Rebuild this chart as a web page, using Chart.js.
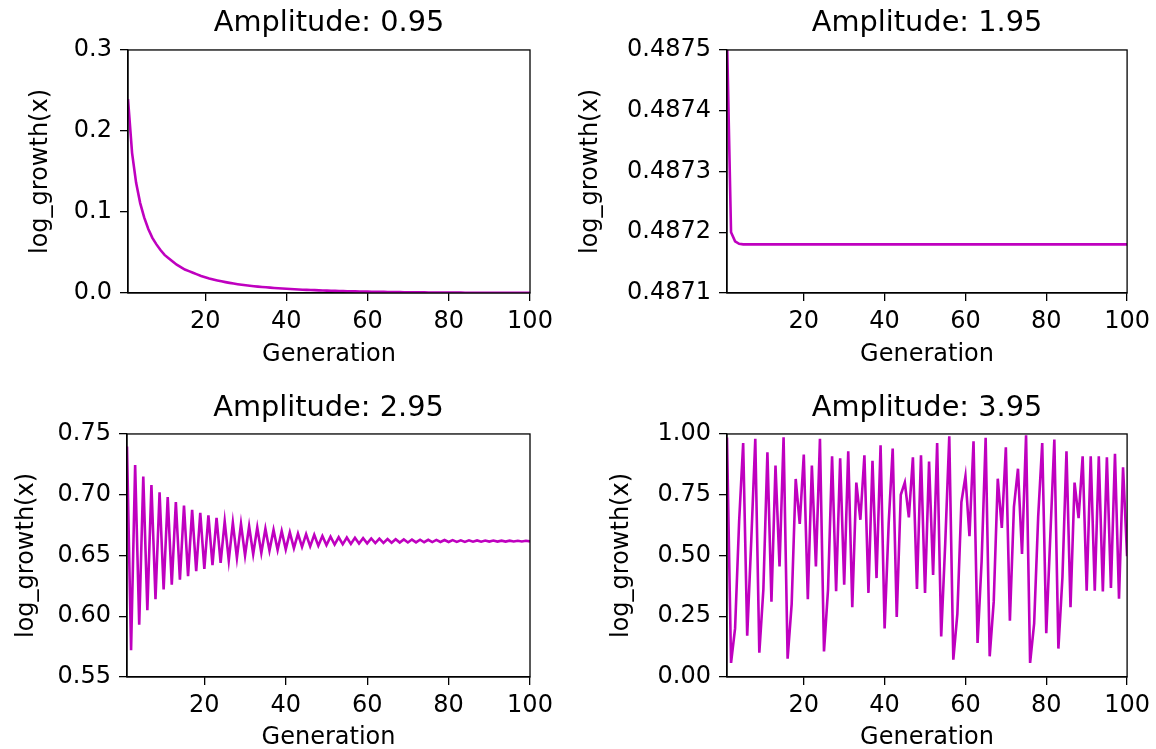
<!DOCTYPE html>
<html>
<head>
<meta charset="utf-8">
<script src="https://cdn.jsdelivr.net/npm/chart.js@4.4.1/dist/chart.umd.min.js"></script>
<style>
  html, body { margin: 0; padding: 0; background: #fff; overflow: hidden; }
  #wrap { position: relative; width: 1156px; height: 749px; overflow: hidden; }
  canvas { position: absolute; }
</style>
</head>
<body>
<div id="wrap">
  <canvas id="c1" width="578" height="374" style="left:0px;top:0px"></canvas>
  <canvas id="c2" width="578" height="374" style="left:578px;top:0px"></canvas>
  <canvas id="c3" width="578" height="380" style="left:0px;top:374px"></canvas>
  <canvas id="c4" width="578" height="380" style="left:578px;top:374px"></canvas>
</div>
<script>
// generation index (x axis)
const generations = [
  1, 2, 3, 4, 5, 6, 7, 8, 9, 10, 11, 12, 13, 14, 15, 16, 17, 18, 19, 20,
  21, 22, 23, 24, 25, 26, 27, 28, 29, 30, 31, 32, 33, 34, 35, 36, 37, 38, 39, 40,
  41, 42, 43, 44, 45, 46, 47, 48, 49, 50, 51, 52, 53, 54, 55, 56, 57, 58, 59, 60,
  61, 62, 63, 64, 65, 66, 67, 68, 69, 70, 71, 72, 73, 74, 75, 76, 77, 78, 79, 80,
  81, 82, 83, 84, 85, 86, 87, 88, 89, 90, 91, 92, 93, 94, 95, 96, 97, 98, 99, 100
];

// values
const amp095 = [
  0.2395, 0.173, 0.136, 0.111, 0.093, 0.079, 0.068, 0.060, 0.053, 0.047,
  0.043, 0.039, 0.035, 0.032, 0.029, 0.027, 0.025, 0.023, 0.021, 0.0195,
  0.0180, 0.0167, 0.0155, 0.0144, 0.0134, 0.0125, 0.0117, 0.0109, 0.0102, 0.0096,
  0.0090, 0.0084, 0.0079, 0.0074, 0.0070, 0.0066, 0.0062, 0.0058, 0.0055, 0.0052,
  0.0049, 0.0046, 0.0043, 0.0041, 0.0039, 0.0037, 0.0035, 0.0033, 0.0031, 0.0029,
  0.0028, 0.0026, 0.0025, 0.0024, 0.0022, 0.0021, 0.0020, 0.0019, 0.0018, 0.0017,
  0.0016, 0.0015, 0.0014, 0.0014, 0.0013, 0.0012, 0.0012, 0.0011, 0.0010, 0.0010,
  0.0009, 0.0009, 0.0008, 0.0008, 0.0007, 0.0007, 0.0007, 0.0006, 0.0006, 0.0006,
  0.0005, 0.0005, 0.0005, 0.0004, 0.0004, 0.0004, 0.0004, 0.0003, 0.0003, 0.0003,
  0.0003, 0.0003, 0.0003, 0.0002, 0.0002, 0.0002, 0.0002, 0.0002, 0.0002, 0.0002
];

const amp195 = [
  0.48752, 0.48720, 0.487185, 0.487181, 0.48718, 0.48718, 0.48718, 0.48718, 0.48718, 0.48718,
  0.48718, 0.48718, 0.48718, 0.48718, 0.48718, 0.48718, 0.48718, 0.48718, 0.48718, 0.48718,
  0.48718, 0.48718, 0.48718, 0.48718, 0.48718, 0.48718, 0.48718, 0.48718, 0.48718, 0.48718,
  0.48718, 0.48718, 0.48718, 0.48718, 0.48718, 0.48718, 0.48718, 0.48718, 0.48718, 0.48718,
  0.48718, 0.48718, 0.48718, 0.48718, 0.48718, 0.48718, 0.48718, 0.48718, 0.48718, 0.48718,
  0.48718, 0.48718, 0.48718, 0.48718, 0.48718, 0.48718, 0.48718, 0.48718, 0.48718, 0.48718,
  0.48718, 0.48718, 0.48718, 0.48718, 0.48718, 0.48718, 0.48718, 0.48718, 0.48718, 0.48718,
  0.48718, 0.48718, 0.48718, 0.48718, 0.48718, 0.48718, 0.48718, 0.48718, 0.48718, 0.48718,
  0.48718, 0.48718, 0.48718, 0.48718, 0.48718, 0.48718, 0.48718, 0.48718, 0.48718, 0.48718,
  0.48718, 0.48718, 0.48718, 0.48718, 0.48718, 0.48718, 0.48718, 0.48718, 0.48718, 0.48718
];

const amp295 = [
  0.7396, 0.572, 0.7245, 0.593, 0.715, 0.605, 0.708, 0.614, 0.702, 0.622,
  0.698, 0.626, 0.694, 0.630, 0.691, 0.633, 0.6875, 0.637, 0.685, 0.639,
  0.683, 0.642, 0.681, 0.644, 0.678, 0.646, 0.677, 0.648, 0.676, 0.650,
  0.674, 0.651, 0.673, 0.652, 0.672, 0.654, 0.671, 0.6545, 0.670, 0.655,
  0.669, 0.656, 0.668, 0.657, 0.6675, 0.6575, 0.667, 0.658, 0.666, 0.6585,
  0.6655, 0.659, 0.665, 0.6592, 0.6648, 0.6595, 0.6645, 0.6598, 0.6642, 0.660,
  0.664, 0.6602, 0.6638, 0.6604, 0.6636, 0.6605, 0.6634, 0.6606, 0.6632, 0.6607,
  0.6631, 0.6608, 0.663, 0.6609, 0.6629, 0.661, 0.6628, 0.6611, 0.6627, 0.6611,
  0.6626, 0.6612, 0.6625, 0.6612, 0.6625, 0.6613, 0.6624, 0.6613, 0.6623, 0.6614,
  0.6623, 0.6614, 0.6622, 0.6614, 0.6622, 0.6615, 0.6621, 0.6615, 0.6621, 0.6616
];

const amp395 = [
  0.985, 0.058, 0.20, 0.64, 0.963, 0.17, 0.56, 0.98, 0.10, 0.36,
  0.925, 0.31, 0.87, 0.455, 0.986, 0.075, 0.30, 0.815, 0.63, 0.915,
  0.32, 0.87, 0.455, 0.98, 0.105, 0.36, 0.908, 0.353, 0.90, 0.38,
  0.929, 0.287, 0.80, 0.647, 0.912, 0.346, 0.89, 0.407, 0.953, 0.20,
  0.63, 0.94, 0.247, 0.75, 0.80, 0.657, 0.904, 0.362, 0.912, 0.346,
  0.887, 0.42, 0.963, 0.167, 0.55, 0.99, 0.071, 0.26, 0.72, 0.826,
  0.579, 0.97, 0.14, 0.475, 0.984, 0.085, 0.31, 0.816, 0.613, 0.945,
  0.232, 0.70, 0.857, 0.506, 0.995, 0.058, 0.22, 0.66, 0.963, 0.18,
  0.58, 0.977, 0.117, 0.41, 0.929, 0.287, 0.80, 0.654, 0.908, 0.355,
  0.908, 0.355, 0.908, 0.352, 0.904, 0.366, 0.918, 0.322, 0.863, 0.497
];

const xTicks = [20, 40, 60, 80, 100];
const yTicks095 = [0, 0.1, 0.2, 0.3];
const yTicks195 = [0.4871, 0.4872, 0.4873, 0.4874, 0.4875];
const yTicks295 = [0.55, 0.60, 0.65, 0.70, 0.75];
const yTicks395 = [0, 0.25, 0.5, 0.75, 1.0];

Chart.defaults.font.family = "'DejaVu Sans', sans-serif";
Chart.defaults.color = '#000';

const LINE = '#bf00bf';
const TICK_FONT = 24;

// top + right spines
const framePlugin = {
  id: 'frame',
  afterDatasetsDraw(chart) {
    const { ctx, chartArea: a } = chart;
    ctx.save();
    ctx.strokeStyle = '#000';
    ctx.lineWidth = 1.3;
    ctx.strokeRect(a.left, a.top, a.right - a.left, a.bottom - a.top);
    ctx.restore();
  }
};

function makePanel(id, title, values, yTicks, decimals, lay) {
  const ctx = document.getElementById(id);
  return new Chart(ctx, {
    type: 'line',
    data: {
      datasets: [{
        data: generations.map((g, i) => ({ x: g, y: values[i] })),
        borderColor: LINE,
        borderWidth: 2.6,
        pointRadius: 0,
        tension: 0,
        fill: false
      }]
    },
    options: {
      responsive: false,
      animation: false,
      devicePixelRatio: 1,
      layout: { padding: { left: 0, right: lay.right, top: 0, bottom: 0 } },
      plugins: {
        legend: { display: false },
        tooltip: { enabled: false },
        title: {
          display: true,
          fullSize: false,
          align: 'center',
          text: title,
          color: '#000',
          font: { size: 28.8, weight: 'normal' },
          padding: { top: lay.titleTop, bottom: lay.titleBottom }
        }
      },
      scales: {
        x: {
          type: 'linear',
          min: 1,
          max: 100,
          afterBuildTicks: (axis) => { axis.ticks = xTicks.map(v => ({ value: v })); },
          afterFit: (scale) => { scale.height = lay.xHeight; },
          grid: { drawOnChartArea: false, drawTicks: true, tickLength: 8, color: '#000', lineWidth: 1.3 },
          border: { display: true, color: '#000', width: 1.3 },
          ticks: { font: { size: TICK_FONT }, padding: 6, maxRotation: 0, color: '#000' },
          title: { display: true, text: 'Generation', font: { size: TICK_FONT }, color: '#000',
                   padding: { top: 0, bottom: lay.xTitleBottom } }
        },
        y: {
          min: yTicks[0],
          max: yTicks[yTicks.length - 1],
          afterBuildTicks: (axis) => { axis.ticks = yTicks.map(v => ({ value: v })); },
          afterFit: (scale) => { scale.width = lay.yWidth; },
          grid: { drawOnChartArea: false, drawTicks: true, tickLength: 8, color: '#000', lineWidth: 1.3 },
          border: { display: true, color: '#000', width: 1.3 },
          ticks: { font: { size: TICK_FONT }, padding: 8, color: '#000',
                   callback: (v) => Number(v).toFixed(decimals) },
          title: { display: true, text: 'log_growth(x)', font: { size: TICK_FONT }, color: '#000',
                   padding: { top: lay.yTitleTop, bottom: 0 } }
        }
      }
    },
    plugins: [framePlugin]
  });
}

makePanel('c1', 'Amplitude: 0.95', amp095, yTicks095, 1,
  { right: 48, yWidth: 128, xHeight: 81, titleTop: 6.7, titleBottom: 8.7, xTitleBottom: 5.2, yTitleTop: 26.6 });
makePanel('c2', 'Amplitude: 1.95', amp195, yTicks195, 4,
  { right: 27, yWidth: 149, xHeight: 81, titleTop: 6.7, titleBottom: 8.7, xTitleBottom: 5.2, yTitleTop: -1.4 });
makePanel('c3', 'Amplitude: 2.95', amp295, yTicks295, 2,
  { right: 48, yWidth: 127, xHeight: 77, titleTop: 17.3, titleBottom: 8.1, xTitleBottom: 2.2, yTitleTop: 12.6 });
makePanel('c4', 'Amplitude: 3.95', amp395, yTicks395, 2,
  { right: 27, yWidth: 149, xHeight: 77, titleTop: 17.3, titleBottom: 8.1, xTitleBottom: 2.2, yTitleTop: 29.6 });
</script>
</body>
</html>
